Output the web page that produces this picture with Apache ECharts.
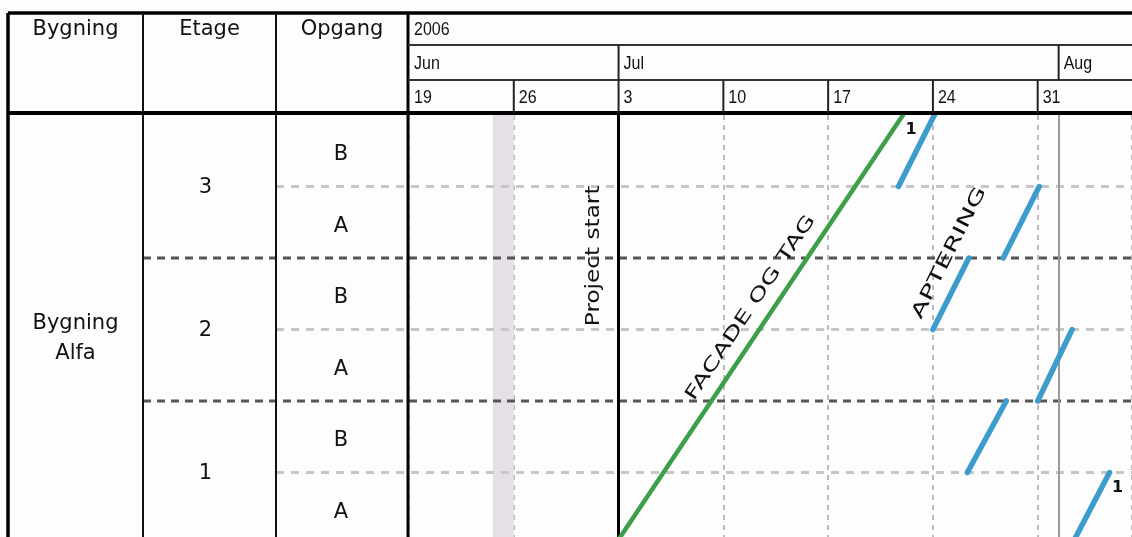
<!DOCTYPE html>
<html><head><meta charset="utf-8">
<script src="https://cdn.jsdelivr.net/npm/echarts@6/dist/echarts.min.js"></script>
<style>html,body{margin:0;padding:0;background:#fff}#c{width:1132px;height:537px}</style>
</head><body><div id="c"></div><script>
// ---- data (x = days since Mon 19 Jun 2006, y = row units from bottom: 1A=0..1, 1B=1..2, ... 3B=5..6)
const yearLabel = '2006';
const monthLabels = ['Jun', 'Jul', 'Aug'];
const monthStarts = [0, 14, 43.4];
const weekLabels = ['19', '26', '3', '10', '17', '24', '31'];
const weekStarts = [0, 7, 14, 21, 28, 35, 42];
const headerCols = ['Bygning', 'Etage', 'Opgang'];
const buildingLabel = 'Bygning\nAlfa';
const floorLabels = ['1', '2', '3'];          // floor i spans rows 2i..2i+2
const entranceLabels = ['A', 'B'];           // lower / upper row within a floor
const projectStartDay = 14;
const shadedDays = [5.6, 7];
const monthLineDay = 43.4;
const facadeLine = [[13.8, 0], [33, 6]];
const apteringLines = [
  [[32.7, 5], [35.1, 6]],
  [[35.0, 3], [37.4, 4]],
  [[37.3, 1], [39.9, 2]],
  [[39.7, 4], [42.1, 5]],
  [[42.0, 2], [44.3, 3]],
  [[44.3, 0], [46.8, 1]]
];
const taskLabels = [
  { text: 'FACADE OG TAG', at: [22.83, 3.3], along: facadeLine, stretch: 1.5 },
  { text: 'APTERING', at: [36.1, 4.07], along: apteringLines[0], stretch: 1.6 }
];
const projectStartLabel = { text: 'Project start', at: [12.35, 4.03] };
const endMarks = [{ text: '1', at: facadeLine[1] }, { text: '1', at: apteringLines[5][1] }];

// ---- chart
const W = 1132, H = 537;
const chart = echarts.init(document.getElementById('c'), null, { renderer: 'canvas', width: W, height: H });
const GREEN = '#3e9e4c', BLUE = '#3c9ccb';
const option = {
  backgroundColor: '#fdfdfd',
  animation: false,
  grid: { left: 409, right: 0, top: 115, bottom: -7, outerBoundsMode: 'none', containLabel: false },
  xAxis: {
    type: 'value', min: 0, max: 48.3, interval: 7,
    axisLine: { show: false }, axisTick: { show: false }, axisLabel: { show: false },
    splitLine: { show: true, lineStyle: { color: '#bcbcbc', width: 2, type: [5, 5] } }
  },
  yAxis: {
    type: 'value', min: 0, max: 6, interval: 1,
    axisLine: { show: false }, axisTick: { show: false }, axisLabel: { show: false },
    splitLine: { show: false }
  },
  series: [
    {
      type: 'line', data: [], silent: true,
      markArea: { silent: true, itemStyle: { color: '#e4e0e6' }, data: [[{ xAxis: shadedDays[0] }, { xAxis: shadedDays[1] }]] },
      markLine: {
        silent: true, symbol: 'none', label: { show: false },
        data: [
          { xAxis: projectStartDay, lineStyle: { color: '#000', width: 3, type: 'solid' } },
          { xAxis: monthLineDay, lineStyle: { color: '#9a9a9a', width: 2, type: 'solid' } }
        ]
      }
    },
    {
      type: 'lines', coordinateSystem: 'cartesian2d', z: 5, silent: true,
      lineStyle: { color: GREEN, width: 4.5, opacity: 1, cap: 'round' },
      data: [{ coords: facadeLine }]
    },
    {
      type: 'lines', coordinateSystem: 'cartesian2d', z: 5, silent: true,
      lineStyle: { color: BLUE, width: 5.5, opacity: 1, cap: 'round' },
      data: apteringLines.map(c => ({ coords: c }))
    }
  ]
};
chart.setOption(option);

const P = (x, y) => chart.convertToPixel({ gridIndex: 0 }, [x, y]);
const px = x => P(x, 0)[0];
const py = y => P(0, y)[1];

const g = [];
const line = (x1, y1, x2, y2, stroke, lineWidth, dash, z) => g.push({
  type: 'line', silent: true, z: z || 10,
  shape: { x1, y1, x2, y2 },
  style: { stroke, lineWidth, lineDash: dash || null }
});
const text = (t, x, y, font, align, extra, styleExtra) => g.push(Object.assign({
  type: 'text', silent: true, z: 20, x, y,
  style: Object.assign({ text: t, x: 0, y: 0, font, fill: '#111', align: align || 'center', verticalAlign: 'middle' }, styleExtra || {})
}, extra || {}));

const L = 8, C1 = 143, C2 = 276, C3 = px(0) - 1;
const T = 13, R1 = 45, R2 = 80, HB = 113;
const LEFT_FONT = '21px "DejaVu Sans"';
const HEAD_FONT = '16px "Liberation Sans"';
const HEAD_SCALE = { scaleY: 1.2 };

// body horizontal lines
for (let r = 1; r < 6; r++) {
  if (r % 2 === 0) line(C1, py(r), W, py(r), '#555', 3, [8, 6], 4);
  else line(C2, py(r), W, py(r), '#c6c6c6', 3, [8, 7], 3);
}
// frame
line(L, T, W, T, '#000', 3.5);
line(L, T, L, H, '#000', 3.5);
line(C1, T, C1, H, '#111', 2);
line(C2, T, C2, H, '#111', 2);
line(C3, T, C3, H, '#000', 3);
line(L, HB, W, HB, '#000', 4);
line(C3, R1, W, R1, '#333', 2);
line(C3, R2, W, R2, '#333', 2);
// timeline header
text(yearLabel, px(0) + 5, (T + R1) / 2 + 1, HEAD_FONT, 'left', HEAD_SCALE);
monthLabels.forEach((m, i) => {
  const x = px(monthStarts[i]);
  if (i > 0) line(x, R1, x, R2, '#222', 2);
  text(m, x + 5, (R1 + R2) / 2 + 1, HEAD_FONT, 'left', HEAD_SCALE);
});
weekLabels.forEach((w, i) => {
  const x = px(weekStarts[i]);
  if (i > 0) line(x, R2, x, HB, '#222', 2);
  text(w, x + 5, (R2 + HB) / 2 + 1, HEAD_FONT, 'left', HEAD_SCALE);
});
// left table header
[[L, C1], [C1, C2], [C2, C3]].forEach((c, i) => text(headerCols[i], (c[0] + c[1]) / 2, 30, LEFT_FONT));
// left table body
text(buildingLabel, (L + C1) / 2, py(3) + 9, LEFT_FONT, 'center', null, { lineHeight: 30 });
floorLabels.forEach((f, i) => {
  text(f, (C1 + C2) / 2 - 4, py(2 * i + 1) + 1, LEFT_FONT);
  entranceLabels.forEach((e, j) => text(e, (C2 + C3) / 2 - 1, py(2 * i + j + 0.5) + 4, LEFT_FONT));
});
// task labels
taskLabels.forEach(t => {
  const a = P(t.along[0][0], t.along[0][1]), b = P(t.along[1][0], t.along[1][1]);
  const ang = Math.atan2(a[1] - b[1], b[0] - a[0]);
  const c = P(t.at[0], t.at[1]);
  text(t.text, c[0], c[1], '18px "DejaVu Sans"', 'center', { rotation: ang, scaleX: t.stretch });
});
{
  const c = P(projectStartLabel.at[0], projectStartLabel.at[1]);
  text(projectStartLabel.text, c[0], c[1], '19px "DejaVu Sans"', 'center', { rotation: Math.PI / 2, scaleX: 1.22 });
}
endMarks.forEach(m => {
  const c = P(m.at[0], m.at[1]);
  text(m.text, c[0] + 8, c[1] + 15, 'bold 16px "DejaVu Sans"', 'center');
});

chart.setOption({ graphic: { elements: g } });
</script></body></html>
